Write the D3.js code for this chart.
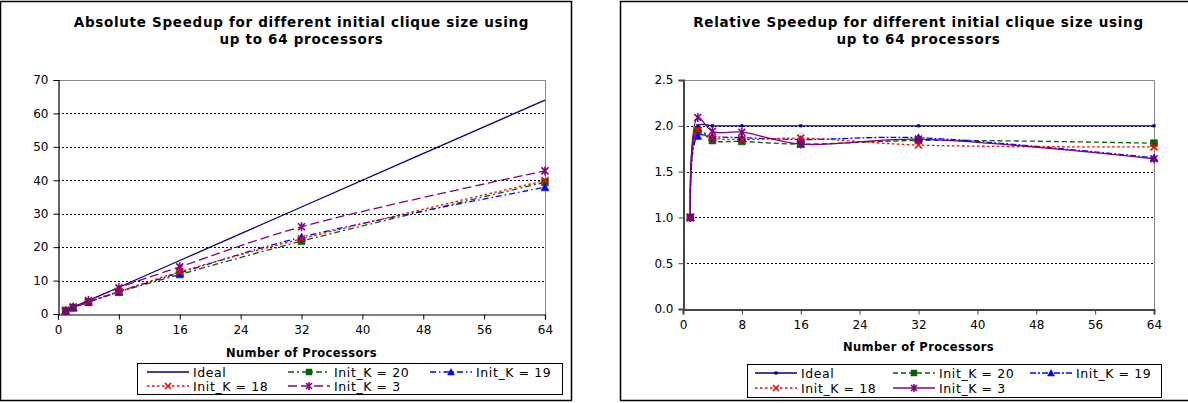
<!DOCTYPE html>
<html>
<head>
<meta charset="utf-8">
<script src="https://cdn.jsdelivr.net/npm/d3@7"></script>
<style>
  body { margin: 0; background: #fff; }
  svg text { font-family: "DejaVu Sans", Verdana, sans-serif; fill: #000; }
</style>
</head>
<body>
<div id="container"></div>
<script>
// processors on the x axis
const procs = [1, 2, 4, 8, 16, 32, 64];
const xTicks = [0, 8, 16, 24, 32, 40, 48, 56, 64];
const seriesNames = ["Ideal", "Init_K = 20", "Init_K = 19", "Init_K = 18", "Init_K = 3"];

// absolute speedup
const absIdeal = [1, 2, 4, 8, 16, 32, 64];
const absK20 = [1, 1.95, 3.59, 6.57, 11.8, 21.8, 39.4];
const absK19 = [1, 1.89, 3.55, 6.64, 12.3, 23.0, 37.9];
const absK18 = [1, 1.95, 3.65, 6.75, 12.6, 22.5, 39.9];
const absK3 = [1, 2.09, 4.05, 7.82, 14.1, 26.1, 42.8];
const absYTicks = [0, 10, 20, 30, 40, 50, 60, 70];

// relative speedup
const relIdeal = [1, 2, 2, 2, 2, 2, 2];
const relK20 = [1, 1.95, 1.84, 1.83, 1.80, 1.84, 1.81];
const relK19 = [1, 1.89, 1.88, 1.87, 1.85, 1.87, 1.65];
const relK18 = [1, 1.95, 1.87, 1.85, 1.866, 1.79, 1.77];
const relK3 = [1, 2.09, 1.94, 1.93, 1.80, 1.855, 1.64];
const relYTicks = [0, 0.5, 1.0, 1.5, 2.0, 2.5];

const colors = ["#000080", "#006400", "#0000ff", "#ff0000", "#800080"];

const width = 1188, height = 403;
const svg = d3.select("#container").append("svg")
  .attr("width", width).attr("height", height);

function markerPath(type, s) {
  const h = s / 2;
  if (type === "x") return `M${-h},${-h}L${h},${h}M${-h},${h}L${h},${-h}`;
  if (type === "star") return `M${-h},${-h}L${h},${h}M${-h},${h}L${h},${-h}M0,${-h - 1}L0,${h + 1}`;
  if (type === "square") return `M${-h},${-h}H${h}V${h}H${-h}Z`;
  if (type === "triangle") return `M0,${-h - 0.5}L${h + 0.5},${h}H${-h - 0.5}Z`;
  if (type === "dot") return `M${-1.3},${-1.3}H1.3V1.3H-1.3Z`;
  return "";
}

function drawMarker(g, type, color, x, y, s) {
  if (type === "none") return;
  const filled = type === "square" || type === "triangle" || type === "dot";
  g.append("path")
    .attr("d", markerPath(type, s))
    .attr("transform", `translate(${x},${y})`)
    .attr("fill", filled ? color : "none")
    .attr("stroke", color)
    .attr("stroke-width", filled ? 0.5 : 1.6);
}

function drawChart(cfg) {
  const g = svg.append("g");

  // frame
  g.append("rect")
    .attr("x", cfg.frame[0]).attr("y", cfg.frame[1])
    .attr("width", cfg.frame[2]).attr("height", cfg.frame[3])
    .attr("fill", "#fff").attr("stroke", "#000").attr("stroke-width", 1.5);

  const x = d3.scaleLinear().domain([0, 64]).range([cfg.left, cfg.right]);
  const y = d3.scaleLinear().domain(cfg.yDomain).range([cfg.bottom, cfg.top]);

  // title
  g.append("text")
    .attr("x", (cfg.left + cfg.right) / 2).attr("y", 27)
    .attr("text-anchor", "middle")
    .attr("font-size", "13.5px").attr("font-weight", "bold")
    .attr("letter-spacing", "0.7px")
    .selectAll("tspan").data(cfg.title).join("tspan")
    .attr("x", (cfg.left + cfg.right) / 2)
    .attr("dy", (d, i) => (i === 0 ? 0 : 17))
    .text(d => d);

  // grid lines
  g.append("g").selectAll("line")
    .data(cfg.yTicks.slice(1, -1)).join("line")
    .attr("x1", cfg.left).attr("x2", cfg.right)
    .attr("y1", d => Math.round(y(d)) + 0.5).attr("y2", d => Math.round(y(d)) + 0.5)
    .attr("stroke", "#000").attr("stroke-dasharray", "2,2");

  // plot area top/right border
  g.append("path")
    .attr("d", `M${cfg.left},${Math.round(cfg.top) + 0.5}H${Math.round(cfg.right) + 0.5}V${cfg.bottom}`)
    .attr("fill", "none").attr("stroke", "#888");

  // axes
  const xAxis = g.append("g")
    .attr("transform", `translate(0,${Math.round(cfg.bottom) + 0.5})`)
    .call(d3.axisBottom(x).tickValues(xTicks).tickSize(5).tickPadding(6).tickFormat(d3.format("d")));
  const yAxis = g.append("g")
    .attr("transform", `translate(${Math.round(cfg.left) + 0.5},0)`)
    .call(d3.axisLeft(y).tickValues(cfg.yTicks).tickSize(5).tickPadding(5).tickFormat(cfg.yFormat));
  [xAxis, yAxis].forEach(a => {
    a.select(".domain").attr("stroke", cfg.axisColor).attr("stroke-width", cfg.axisWidth);
    a.selectAll(".tick line").attr("stroke", cfg.axisColor);
    a.selectAll(".tick text").attr("font-size", "12px").attr("fill", "#222")
      .attr("font-family", "DejaVu Sans, Verdana, sans-serif");
  });

  // x axis title
  g.append("text")
    .attr("x", (cfg.left + cfg.right) / 2).attr("y", cfg.xTitleY)
    .attr("text-anchor", "middle")
    .attr("font-size", "11.5px").attr("font-weight", "bold")
    .attr("letter-spacing", "0.4px")
    .text("Number of Processors");

  // series (smoothed like the spreadsheet's curves)
  const line = d3.line()
    .x(d => x(d[0])).y(d => y(d[1]))
    .curve(d3.curveCatmullRom.alpha(0.5));

  const order = [0, 1, 2, 3, 4];
  order.forEach(i => {
    const pts = procs.map((p, j) => [p, cfg.series[i][j]]);
    g.append("path")
      .datum(pts)
      .attr("d", line)
      .attr("fill", "none")
      .attr("stroke", colors[i])
      .attr("stroke-width", 1.3)
      .attr("stroke-dasharray", cfg.dashes[i]);
  });
  order.forEach(i => {
    const pts = procs.map((p, j) => [p, cfg.series[i][j]]);
    pts.forEach(d => drawMarker(g, cfg.markers[i], colors[i], x(d[0]), y(d[1]), 7));
  });

  // legend
  const lg = g.append("g");
  lg.append("rect")
    .attr("x", cfg.legend.x + 0.5).attr("y", cfg.legend.y + 0.5)
    .attr("width", cfg.legend.w).attr("height", cfg.legend.h)
    .attr("fill", "#fff").attr("stroke", "#000");
  const cols = cfg.legend.cols;
  const rows = cfg.legend.rows;
  seriesNames.forEach((name, i) => {
    const cx = cols[i % 3], cy = rows[Math.floor(i / 3)];
    lg.append("line")
      .attr("x1", cx).attr("x2", cx + 42)
      .attr("y1", cy).attr("y2", cy)
      .attr("stroke", colors[i]).attr("stroke-width", 1.3)
      .attr("stroke-dasharray", cfg.dashes[i]);
    drawMarker(lg, cfg.markers[i], colors[i], cx + 21, cy, 6);
    lg.append("text")
      .attr("x", cx + 46).attr("y", cy + 4.5)
      .attr("font-size", "12.5px")
      .attr("letter-spacing", "0.6px")
      .attr("xml:space", "preserve")
      .text(name);
  });
}

drawChart({
  frame: [0.5, 1.5, 571, 399],
  title: ["Absolute Speedup for different initial clique size using", "up to 64 processors"],
  left: 58, right: 545, top: 80, bottom: 314,
  yDomain: [0, 70], yTicks: absYTicks, yFormat: d3.format("d"),
  axisColor: "#000", axisWidth: 1.2,
  xTitleY: 357,
  series: [absIdeal, absK20, absK19, absK18, absK3],
  dashes: [null, "6,3,2,3", "6,3,1.5,3", "2.5,2.5", "9,4"],
  markers: ["none", "square", "triangle", "x", "star"],
  legend: { x: 137, y: 363, w: 425, h: 31, cols: [147, 288, 430], rows: [372, 386] }
});

drawChart({
  frame: [620.5, 1.5, 600, 399],
  title: ["Relative Speedup for different initial clique size using", "up to 64 processors"],
  left: 683, right: 1154, top: 80, bottom: 309,
  yDomain: [0, 2.5], yTicks: relYTicks, yFormat: d3.format(".1f"),
  axisColor: "#444", axisWidth: 2,
  xTitleY: 351,
  series: [relIdeal, relK20, relK19, relK18, relK3],
  dashes: [null, "5,3", "6,2,2,2", "2.5,2.5", null],
  markers: ["dot", "square", "triangle", "x", "star"],
  legend: { x: 747, y: 364, w: 414, h: 33, cols: [755, 893, 1030], rows: [373, 388] }
});
</script>
</body>
</html>
